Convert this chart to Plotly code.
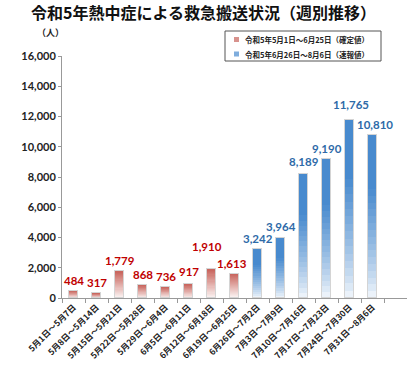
import plotly.graph_objects as go

categories = ["5月1日～5月7日", "5月8日～5月14日", "5月15日～5月21日", "5月22日～5月28日",
              "5月29日～6月4日", "6月5日～6月11日", "6月12日～6月18日", "6月19日～6月25日",
              "6月26日～7月2日", "7月3日～7月9日", "7月10日～7月16日", "7月17日～7月23日",
              "7月24日～7月30日", "7月31日～8月6日"]
values = [484, 317, 1779, 868, 736, 917, 1910, 1613,
          3242, 3964, 8189, 9190, 11765, 10810]
is_final = [True] * 8 + [False] * 6  # 確定値 / 速報値
series_names = ["令和5年5月1日～6月25日（確定値）", "令和5年6月26日～8月6日（速報値）"]
y_ticks = [0, 2000, 4000, 6000, 8000, 10000, 12000, 14000, 16000]

RED_TOP = (200, 100, 92)
BLUE_TOP = (72, 138, 206)
RED_TXT = "#c00000"
BLUE_TXT = "#2e6aa8"
N = 24

W, H = 407, 367
L, R, T, B = 62, 0, 56, 69


def px2paper(px, py):
    return (px - L) / (W - L - R), (H - B - py) / (H - T - B)


def mix(c, t):
    return "rgb(%d,%d,%d)" % tuple(round(255 + (ci - 255) * t) for ci in c)


fig = go.Figure()
for k in range(N):
    f = (k + 0.5) / N
    cols = []
    for fin in is_final:
        if fin:
            cols.append(mix(RED_TOP, 0.05 + 0.95 * f))
        else:
            cols.append(mix(BLUE_TOP, min(1.0, 0.05 + 1.3 * f ** 0.8)))
    fig.add_trace(go.Bar(
        x=categories, y=[v / N for v in values], width=0.4,
        marker=dict(color=cols, line=dict(width=0)),
        showlegend=False, hoverinfo="skip"))

# outline overlay
fig.add_trace(go.Bar(
    x=categories, y=values, width=0.4, xaxis="x2",
    marker=dict(color="rgba(0,0,0,0)", line=dict(color="#d4d4d4", width=1)),
    showlegend=False, hoverinfo="skip"))

extra_y = [0, 0, 0, 0, 0, 2, 12, 0, 0, 1, 2, 0, 5, 0]
extra_x = [0, 0, 0, 0, 0, 0, -5, -3, 0, 0, 0, 0, 1, 2]
for i, (c, v) in enumerate(zip(categories, values)):
    fig.add_annotation(
        x=c, y=v, text=f"{v:,}", showarrow=False, yanchor="bottom",
        yshift=2 + extra_y[i], xshift=extra_x[i],
        font=dict(size=11.5, color=RED_TXT if is_final[i] else BLUE_TXT,
                  family="Lato, 'Noto Sans CJK JP'", weight="bold"))

# y unit label
ux, uy = px2paper(50, 32)
fig.add_annotation(xref="paper", yref="paper", x=ux, y=uy, text="（人）",
                   showarrow=False, xanchor="center", yanchor="middle",
                   font=dict(size=9, color="#222", family="'Noto Sans CJK JP'", weight="bold"))

# legend box (drawn)
x0, y0 = px2paper(225, 31)
x1, y1 = px2paper(381, 61)
fig.add_shape(type="rect", xref="paper", yref="paper", x0=x0, y0=y1, x1=x1, y1=y0,
              line=dict(color="#555", width=1), fillcolor="white", layer="above")
leg_cols = [mix(RED_TOP, 0.7), mix(BLUE_TOP, 0.7)]
for name, col, py in zip(series_names, leg_cols, [39.5, 54.0]):
    sx0, sy0 = px2paper(234, py - 2.5)
    sx1, sy1 = px2paper(239, py + 2.5)
    fig.add_shape(type="rect", xref="paper", yref="paper", x0=sx0, y0=sy1, x1=sx1, y1=sy0,
                  line=dict(width=0), fillcolor=col, layer="above")
    tx, ty = px2paper(243, py)
    fig.add_annotation(xref="paper", yref="paper", x=tx, y=ty, text=name,
                       showarrow=False, xanchor="left", yanchor="middle",
                       font=dict(size=7.5, color="#222", family="'Noto Sans CJK JP'",
                                 weight="bold"))

fig.update_layout(
    width=W, height=H,
    margin=dict(l=L, r=R, t=T, b=B),
    paper_bgcolor="white", plot_bgcolor="white",
    barmode="stack", bargap=0, showlegend=False,
    title=dict(text="令和5年熱中症による救急搬送状況（週別推移）", x=0.5, xanchor="center",
               y=1 - 13 / H, yanchor="middle",
               font=dict(size=16, color="#111", family="'Noto Sans CJK JP'", weight="bold")),
    font=dict(family="'Noto Sans CJK JP'", color="#222"),
    xaxis=dict(type="category", categoryorder="array", categoryarray=categories,
               range=[-0.5, 14.5], tickangle=-45, tickson="boundaries",
               ticks="outside", ticklen=4, tickcolor="#999",
               showline=True, linecolor="#999", linewidth=1, showgrid=False,
               tickfont=dict(size=8.5, color="#222", family="'Noto Sans CJK JP'", weight="bold"),
               automargin=False),
    xaxis2=dict(type="category", categoryorder="array", categoryarray=categories,
                range=[-0.5, 14.5], overlaying="x", visible=False),
    yaxis=dict(range=[0, 16000], tickvals=y_ticks, tickformat=",d",
               ticks="outside", ticklen=3, tickcolor="#999",
               showline=True, linecolor="#999", linewidth=1, showgrid=False, zeroline=False,
               tickfont=dict(size=11, color="#222", family="Lato", weight="bold"),
               automargin=False),
)

fig.write_html("out.html", config={"displayModeBar": False},
               post_script="document.body.style.margin='0';document.body.style.padding='0';")
